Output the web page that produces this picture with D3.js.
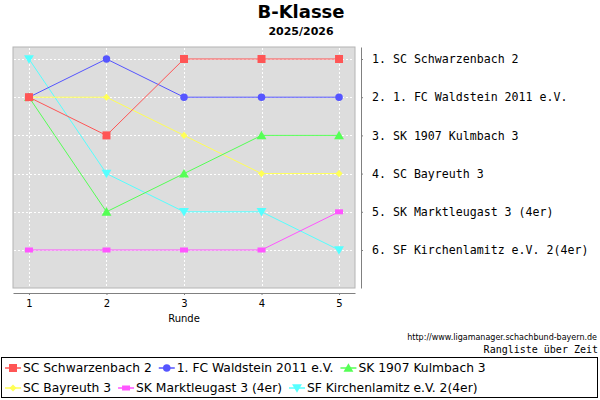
<!DOCTYPE html>
<html>
<head>
<meta charset="utf-8">
<script src="https://cdn.jsdelivr.net/npm/d3@7.9.0/dist/d3.min.js"></script>
<style>
  body { margin: 0; background: #fff; }
  svg { display: block; }
</style>
</head>
<body>
<svg id="chart" width="600" height="400"></svg>
<script>
const rounds = [1, 2, 3, 4, 5];
const teams = [
  'SC Schwarzenbach 2',
  '1. FC Waldstein 2011 e.V.',
  'SK 1907 Kulmbach 3',
  'SC Bayreuth 3',
  'SK Marktleugast 3 (4er)',
  'SF Kirchenlamitz e.V. 2(4er)'
];
// rank of each team after each round
const ranks = [
  [2, 3, 1, 1, 1],
  [2, 1, 2, 2, 2],
  [2, 5, 4, 3, 3],
  [2, 2, 3, 4, 4],
  [6, 6, 6, 6, 5],
  [1, 4, 5, 5, 6]
];
const rankTicks = [1, 2, 3, 4, 5, 6];
const rankLabels = [
  '1. SC Schwarzenbach 2',
  '2. 1. FC Waldstein 2011 e.V.',
  '3. SK 1907 Kulmbach 3',
  '4. SC Bayreuth 3',
  '5. SK Marktleugast 3 (4er)',
  '6. SF Kirchenlamitz e.V. 2(4er)'
];
const colors = ['#ff5555', '#5555ff', '#55ff55', '#ffff55', '#ff55ff', '#55ffff'];

const svg = d3.select('#chart');
const sans = 'DejaVu Sans, sans-serif';
const mono = 'DejaVu Sans Mono, monospace';

// plot area
const plot = { left: 13, right: 355, top: 47, bottom: 288 };

const x = d3.scaleLinear().domain([0.794, 5.206]).range([plot.left, plot.right]);
const y = d3.scaleLinear().domain([0.686, 6.995]).range([plot.top, plot.bottom]);

// title
svg.append('text')
  .attr('x', 301).attr('y', 18)
  .attr('text-anchor', 'middle')
  .attr('font-family', sans).attr('font-weight', 'bold').attr('font-size', 18)
  .text('B-Klasse');
svg.append('text')
  .attr('x', 301).attr('y', 35)
  .attr('text-anchor', 'middle')
  .attr('font-family', sans).attr('font-weight', 'bold').attr('font-size', 11)
  .text('2025/2026');

// background
svg.append('rect')
  .attr('x', plot.left).attr('y', plot.top)
  .attr('width', plot.right - plot.left).attr('height', plot.bottom - plot.top)
  .attr('fill', '#dddddd')
  .attr('stroke', '#b4b4b4').attr('stroke-width', 1);

// grid lines
const grid = svg.append('g')
  .attr('stroke', '#ffffff').attr('stroke-width', 1).attr('stroke-dasharray', '2,2');
grid.selectAll('.gx')
  .data(rounds)
  .join('line')
  .attr('x1', d => Math.round(x(d)) + 0.5).attr('x2', d => Math.round(x(d)) + 0.5)
  .attr('y1', plot.top + 1).attr('y2', plot.bottom - 1);
grid.selectAll('.gy')
  .data(rankTicks)
  .join('line')
  .attr('class', 'gy')
  .attr('y1', d => Math.round(y(d)) + 0.5).attr('y2', d => Math.round(y(d)) + 0.5)
  .attr('x1', plot.left + 1).attr('x2', plot.right - 1);

// bottom axis
const xAxis = svg.append('g')
  .attr('transform', `translate(0,${plot.bottom + 5})`)
  .call(d3.axisBottom(x).tickValues(rounds).tickSize(2).tickSizeOuter(0).tickFormat(d3.format('d')));
xAxis.select('.domain').attr('stroke', '#808080');
xAxis.selectAll('.tick line').attr('stroke', '#808080');
xAxis.selectAll('.tick text').attr('font-family', sans).attr('font-size', 10).attr('fill', '#000').attr('dy', '0.9em');

svg.append('text')
  .attr('x', (plot.left + plot.right) / 2).attr('y', 322)
  .attr('text-anchor', 'middle')
  .attr('font-family', sans).attr('font-size', 10)
  .text('Runde');

// right axis with final standings
const yAxis = svg.append('g')
  .attr('transform', `translate(${plot.right + 6},0)`)
  .call(d3.axisRight(y).tickValues(rankTicks).tickSize(2).tickSizeOuter(0).tickPadding(9)
    .tickFormat((d, i) => rankLabels[i]));
yAxis.select('.domain').attr('stroke', '#808080');
yAxis.selectAll('.tick line').attr('stroke', '#808080');
yAxis.selectAll('.tick text').attr('font-family', mono).attr('font-size', 11.6).attr('fill', '#000');

// markers
const shapes = [
  d3.symbol().type(d3.symbolSquare).size(64),
  d3.symbol().type(d3.symbolCircle).size(44),
  d3.symbol().type(d3.symbolTriangle).size(42),
  d3.symbol().type(d3.symbolDiamond2).size(32),
  () => 'M-4,-2.5H4V2.5H-4Z',
  d3.symbol().type(d3.symbolTriangle).size(42)
];
const rotations = [0, 0, 0, 0, 0, 180];

const line = d3.line()
  .x((d, i) => x(rounds[i]))
  .y(d => y(d));

// first series ends up on top, so draw in reverse
const order = d3.range(teams.length).reverse();
order.forEach(s => {
  const g = svg.append('g');
  g.append('path')
    .datum(ranks[s])
    .attr('d', line)
    .attr('fill', 'none')
    .attr('stroke', colors[s])
    .attr('stroke-width', 1);
  g.selectAll('path.m')
    .data(ranks[s])
    .join('path')
    .attr('class', 'm')
    .attr('d', shapes[s])
    .attr('transform', (d, i) => `translate(${x(rounds[i])},${y(d) + (s === 2 ? 1 : s === 5 ? -1 : 0)}) rotate(${rotations[s]})`)
    .attr('fill', colors[s]);
});

// source notes
const url = svg.append('text')
  .attr('x', 597).attr('y', 340)
  .attr('text-anchor', 'end')
  .attr('font-family', sans).attr('font-size', 10)
  .text('http://www.ligamanager.schachbund-bayern.de');
// shrink the font so the note fits the width seen in the picture
const urlW = url.node().getComputedTextLength();
url.attr('font-size', 10 * 190 / urlW);

svg.append('text')
  .attr('x', 598).attr('y', 353)
  .attr('text-anchor', 'end')
  .attr('font-family', mono).attr('font-size', 10)
  .text('Rangliste über Zeit');

// legend
svg.append('rect')
  .attr('x', 1.5).attr('y', 357.5)
  .attr('width', 596).attr('height', 40)
  .attr('fill', 'none').attr('stroke', '#000').attr('stroke-width', 1);

const legendRows = [[0, 1, 2], [3, 4, 5]];
const rowY = [368, 388];
legendRows.forEach((row, r) => {
  let cx = 5;
  row.forEach(s => {
    const item = svg.append('g').attr('transform', `translate(${cx},${rowY[r]})`);
    item.append('line')
      .attr('x1', 0).attr('x2', 16).attr('y1', 0).attr('y2', 0)
      .attr('stroke', colors[s]).attr('stroke-width', 1.5);
    item.append('path')
      .attr('d', shapes[s])
      .attr('transform', `translate(8,${s === 2 ? 1 : s === 5 ? -1 : 0}) rotate(${rotations[s]})`)
      .attr('fill', colors[s]);
    const t = item.append('text')
      .attr('x', 18).attr('y', 0).attr('dy', '0.36em')
      .attr('font-family', sans).attr('font-size', 12.3)
      .text(teams[s]);
    cx += 18 + t.node().getComputedTextLength() + 7;
  });
});
</script>
</body>
</html>
